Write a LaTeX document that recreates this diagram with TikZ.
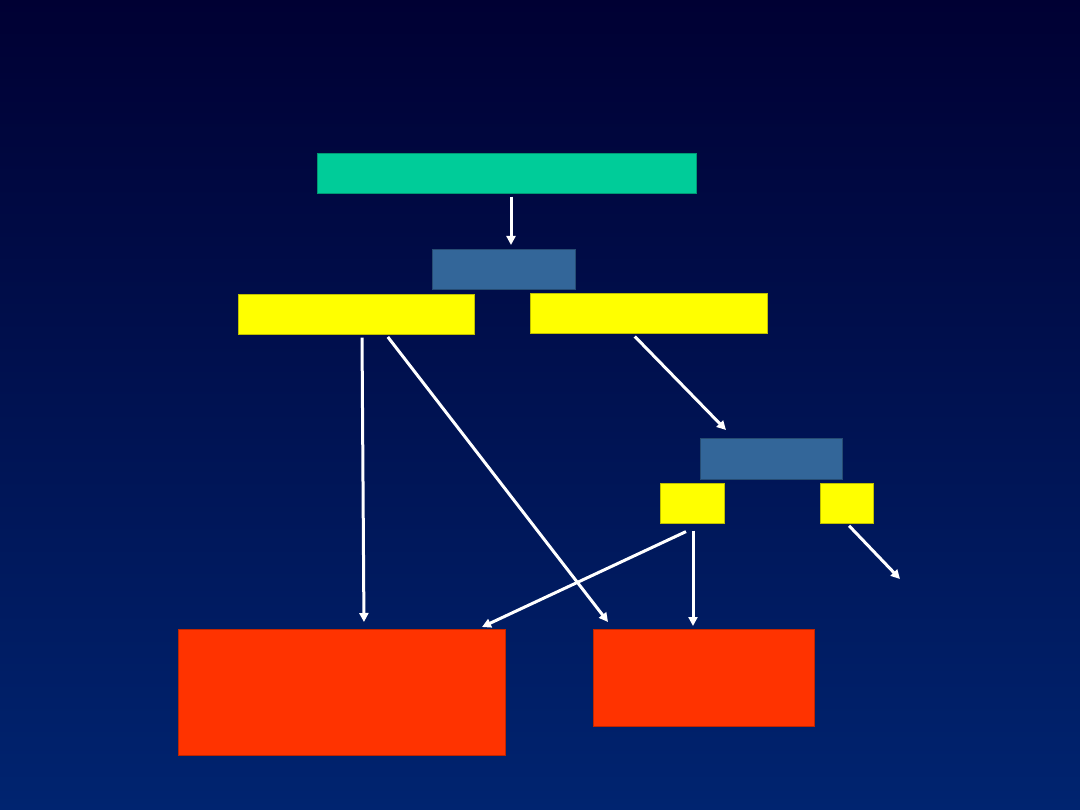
\documentclass[tikz,border=0pt]{standalone}
\usetikzlibrary{arrows.meta}
\definecolor{bgtop}{HTML}{000033}
\definecolor{bgbot}{HTML}{002470}
\definecolor{cgreen}{HTML}{00CC99}
\definecolor{cblue}{HTML}{336699}
\definecolor{cyellow}{HTML}{FFFF00}
\definecolor{cred}{HTML}{FF3300}
\tikzset{
  box/.style={draw=#1!75!black, line width=0.6pt, fill=#1, inner sep=0pt, anchor=north west},
  arr/.style={draw=white, line width=3pt, -{Triangle[length=9pt,width=9pt]}},
}
\begin{document}
\begin{tikzpicture}[x=1pt,y=-1pt]
\useasboundingbox (0,0) rectangle (1080,810);
\shade[top color=bgtop, bottom color=bgbot] (0,0) rectangle (1080,810);
\node[box=cgreen, minimum width=379pt, minimum height=40pt] (g) at (317,153) {};
\node[box=cblue, minimum width=143pt, minimum height=40pt] (b1) at (432,249) {};
\node[box=cyellow, minimum width=236pt, minimum height=40pt] (yl) at (238,294) {};
\node[box=cyellow, minimum width=237pt, minimum height=40pt] (yr) at (530,293) {};
\node[box=cblue, minimum width=142pt, minimum height=41pt] (b2) at (700,438) {};
\node[box=cyellow, minimum width=64pt, minimum height=40pt] (s1) at (660,483) {};
\node[box=cyellow, minimum width=53pt, minimum height=40pt] (s2) at (820,483) {};
\node[box=cred, minimum width=327pt, minimum height=126pt] (rl) at (178,629) {};
\node[box=cred, minimum width=221pt, minimum height=97pt] (rr) at (593,629) {};
\coordinate (free) at (900,579);
\draw[arr, shorten <=3pt, shorten >=4pt] ([xshift=194pt]g.south west) -- ([xshift=79pt]b1.north west);
\draw[arr, shorten <=3pt, shorten >=7pt] ([xshift=124pt]yl.south west) -- ([xshift=186pt]rl.north west);
\draw[arr, shorten <=3pt, shorten >=0pt] ([xshift=148pt]yl.south west) -- ([xshift=15pt,yshift=7pt]rr.north west);
\draw[arr, shorten <=4pt, shorten >=0pt] ([xshift=102pt]yr.south west) -- ([xshift=26pt,yshift=8pt]b2.north west);
\draw[arr, shorten <=0pt, shorten >=0pt] ([xshift=26pt,yshift=-8pt]s1.south west) -- ([xshift=304pt,yshift=2pt]rl.north west);
\draw[arr, shorten <=7pt, shorten >=3pt] ([xshift=33pt]s1.south west) -- ([xshift=100pt]rr.north west);
\draw[arr, shorten <=3pt, shorten >=0pt] ([xshift=27pt]s2.south west) -- (free);
\end{tikzpicture}
\end{document}
